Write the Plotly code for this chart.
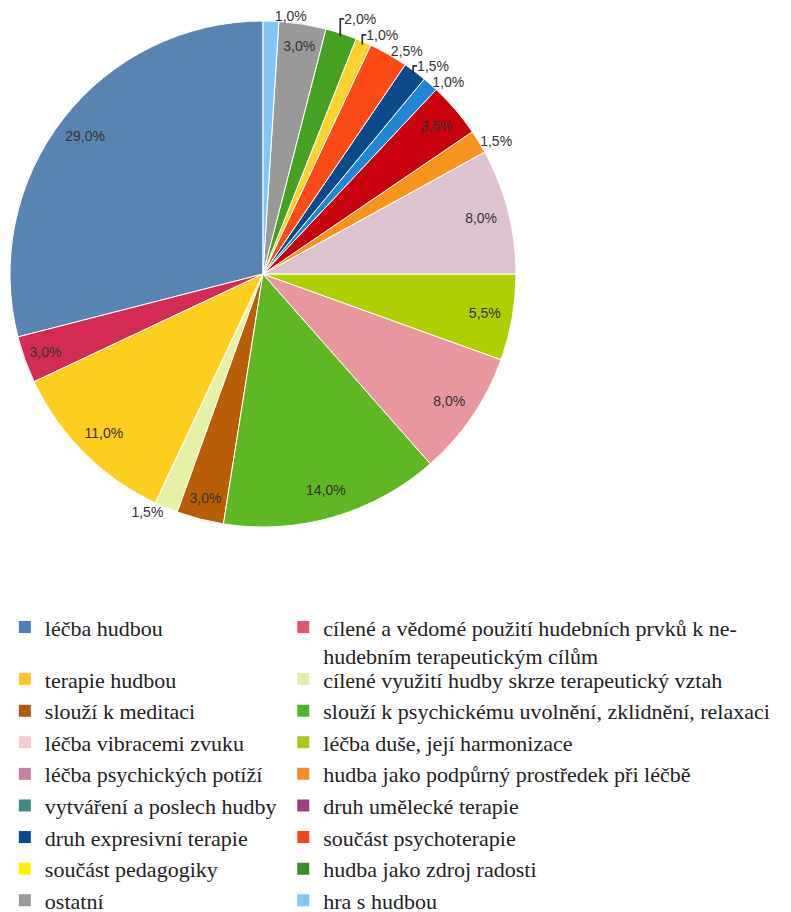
import plotly.graph_objects as go

# 饼图数据（从 12 点钟方向开始，逆时针）
categories = [
    "léčba hudbou",
    "cílené a vědomé použití hudebních prvků k ne-<br>hudebním terapeutickým cílům",
    "terapie hudbou",
    "cílené využití hudby skrze terapeutický vztah",
    "slouží k meditaci",
    "slouží k psychickému uvolnění, zklidnění, relaxaci",
    "léčba vibracemi zvuku",
    "léčba duše, její harmonizace",
    "léčba psychických potíží",
    "hudba jako podpůrný prostředek při léčbě",
    "vytváření a poslech hudby",
    "druh umělecké terapie",
    "druh expresivní terapie",
    "součást psychoterapie",
    "součást pedagogiky",
    "hudba jako zdroj radosti",
    "ostatní",
    "hra s hudbou",
]
shares = [29.0, 3.0, 11.0, 1.5, 3.0, 14.0, 8.0, 5.5, 8.0, 1.5,
          3.5, 1.0, 1.5, 2.5, 1.0, 2.0, 3.0, 1.0]

slice_colors = [
    "#5983b0", "#d42b55", "#fdcd20", "#e6f0a6", "#b85e06", "#5fb823",
    "#e8979f", "#afcf00", "#ddc3d0", "#f7941d", "#c9000e", "#1f88d6",
    "#0c4a8a", "#fd4b18", "#fdd22c", "#46a022", "#999999", "#83c5f7",
]
legend_colors = [
    "#4f7db3", "#e2566e", "#fdc72c", "#e3ecaa", "#b35a0a", "#4fb42a",
    "#f5cad0", "#a8cc14", "#c77fa3", "#f58d20", "#3e8a83", "#983e82",
    "#0a4a8e", "#f5461a", "#fdf200", "#3a8a28", "#9a9a9a", "#82c6f5",
]
# 标签位置：大扇区在内侧，小扇区在外侧
label_pos = ["inside", "inside", "inside", "outside", "inside", "inside",
             "inside", "inside", "inside", "outside", "inside", "outside",
             "outside", "outside", "outside", "outside", "inside", "outside"]
# 外侧标签分组：同组内由 plotly 自动错开，组间互不影响
outside_groups = [[3], [9], [11, 12], [13, 14, 15], [17]]

labels_txt = [f"{v:.1f}%".replace(".", ",") for v in shares]
# plotly 逆时针时第一块落在 rotation 的顺时针一侧，需要转回去
rotation = -shares[0] / sum(shares) * 360

W, H = 791, 912
CX, CY, R = 255, 266, 253


def pie_domain(r):
    return dict(x=[(CX - r) / W, (CX + r) / W], y=[(H - CY - r) / H, (H - CY + r) / H])


clear = ["rgba(0,0,0,0)"] * len(shares)
label_font = dict(family="Liberation Sans", size=14, color="#333333")

fig = go.Figure()
fig.add_trace(go.Pie(
    labels=categories, values=shares, sort=False, direction="counterclockwise",
    rotation=rotation, domain=pie_domain(R), showlegend=False, textinfo="none",
    marker=dict(colors=slice_colors, line=dict(color="white", width=1)),
))
# 透明环形叠加层：内侧标签
fig.add_trace(go.Pie(
    labels=categories, values=shares, sort=False, direction="counterclockwise",
    rotation=rotation, domain=pie_domain(R), showlegend=False, hole=0.78,
    text=labels_txt, textinfo="text",
    textposition=[p if p == "inside" else "none" for p in label_pos],
    insidetextorientation="horizontal", textfont=label_font,
    marker=dict(colors=clear, line=dict(width=0)), hoverinfo="skip",
))
# 外侧标签：分组成若干透明层，避免 plotly 把全部标签堆叠在一起
for grp in outside_groups:
    fig.add_trace(go.Pie(
        labels=categories, values=shares, sort=False, direction="counterclockwise",
        rotation=rotation, domain=pie_domain(R - 3), showlegend=False,
        text=labels_txt, textinfo="text",
        textposition=["outside" if i in grp else "none" for i in range(len(shares))],
        textfont=label_font,
        marker=dict(colors=clear, line=dict(width=0)), hoverinfo="skip",
    ))

# 图例：两列；第一行单独一个图例，以便下面各行左右对齐
for i, (name, col) in enumerate(zip(categories, legend_colors)):
    left = i % 2 == 0
    first_row = i < 2
    which = ("legend" if left else "legend2") if first_row else ("legend3" if left else "legend4")
    fig.add_trace(go.Scatter(
        x=[None], y=[None], mode="markers", name=name, legend=which,
        marker=dict(symbol="square", size=12, color=col),
    ))

legend_font = dict(family="Liberation Serif", size=22, color="#222222")
common = dict(xanchor="left", yanchor="top", valign="top",
              font=legend_font, bgcolor="rgba(0,0,0,0)")
fig.update_layout(
    width=W, height=H, margin=dict(l=0, r=0, t=0, b=0, autoexpand=False),
    paper_bgcolor="white", plot_bgcolor="white",
    xaxis=dict(visible=False), yaxis=dict(visible=False),
    legend=dict(x=-0.004, y=0.344, **common),
    legend2=dict(x=0.348, y=0.344, **common),
    legend3=dict(x=-0.004, y=0.287, **common),
    legend4=dict(x=0.348, y=0.287, **common),
)
fig.write_html("out.html")
